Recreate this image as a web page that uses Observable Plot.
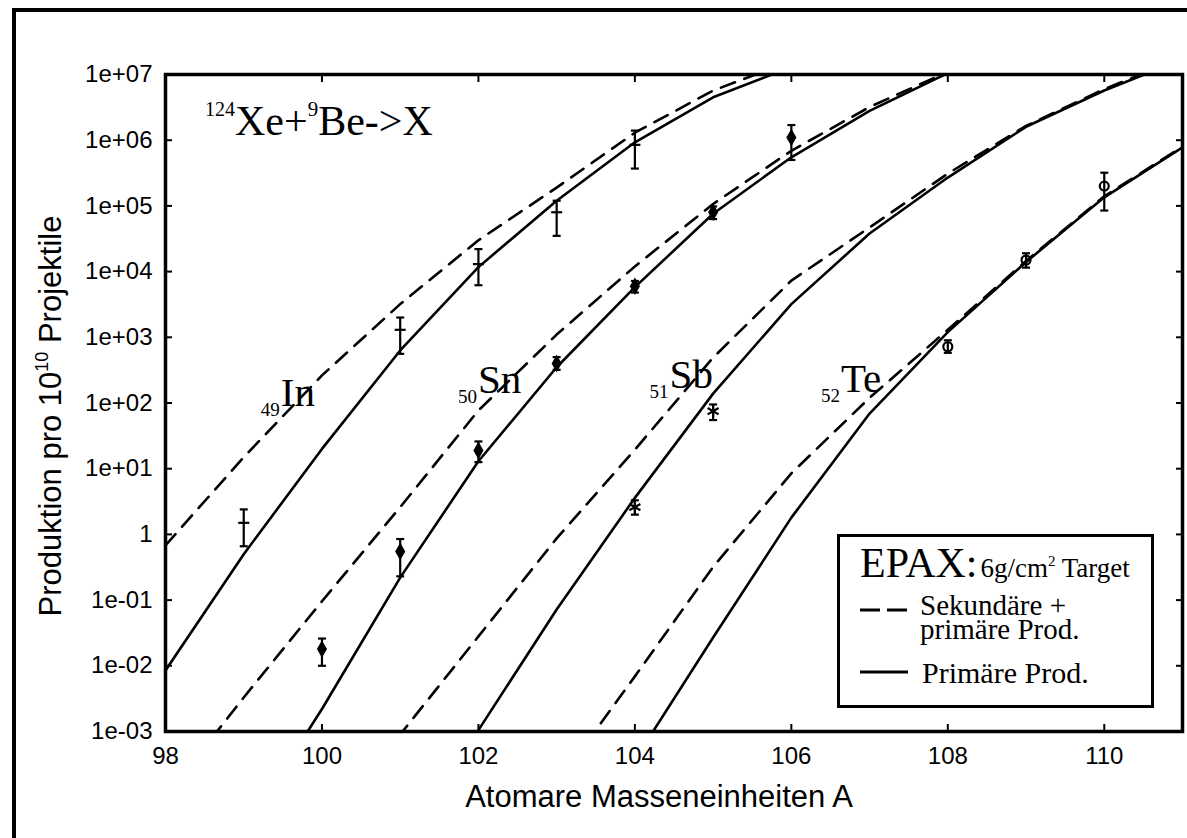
<!DOCTYPE html>
<html><head><meta charset="utf-8">
<script src="https://cdn.jsdelivr.net/npm/d3@7"></script>
<script src="https://cdn.jsdelivr.net/npm/@observablehq/plot@0.6"></script>
<style>
html,body{margin:0;padding:0;background:#fff;overflow:hidden;width:1187px;height:838px;}
#wrap{position:relative;width:1187px;height:838px;overflow:hidden;}
#chart{position:absolute;left:0;top:0;}
#outer{position:absolute;left:12px;top:8px;width:1300px;height:1000px;border:4px solid #000;pointer-events:none;}
</style></head>
<body><div id="wrap"><div id="chart"></div><div id="outer"></div></div>
<script>
// ---- data ----
const massA = [98, 99, 100, 101, 102, 103, 104, 105, 106, 107, 108, 109, 110, 111];
const In_primary = [8.5e-3, 0.5, 20, 630, 1.17e4, 1.2e5, 9.3e5, 4.5e6, 1.3e7, null, null, null, null, null];
const In_total   = [0.68, 15, 263, 3.2e3, 3.0e4, 1.9e5, 1.3e6, 5.7e6, 1.6e7, null, null, null, null, null];
const Sn_primary = [null, 3e-5, 2.2e-3, 0.22, 13, 350, 5.8e3, 7.6e4, 5.5e5, 2.8e6, 1.05e7, null, null, null];
const Sn_total   = [1e-4, 3.3e-3, 0.096, 2.6, 77, 1.1e3, 1.2e4, 1.07e5, 6.9e5, 3.2e6, 1.1e7, null, null, null];
const Sb_primary = [null, null, null, 1.5e-5, 1.05e-3, 0.072, 3.6, 139, 3.2e3, 3.8e4, 2.7e5, 1.6e6, 5.7e6, 1.7e7];
const Sb_total   = [null, null, 2.5e-5, 9e-4, 0.028, 0.87, 19.5, 490, 7.3e3, 4.7e4, 3.1e5, 1.65e6, 6.0e6, 1.8e7];
const Te_primary = [null, null, null, null, null, null, 3.7e-4, 0.027, 1.8, 69, 1.2e3, 1.4e4, 1.35e5, 7.8e5];
const Te_total   = [null, null, null, null, null, 1.6e-4, 6.9e-3, 0.32, 8.5, 120, 1.3e3, 1.45e4, 1.4e5, 8.0e5];

const In_A = [99, 101, 102, 103, 104];
const In_val = [1.5, 1.3e3, 1.3e4, 8e4, 8.5e5];
const In_lo = [0.66, 560, 6.2e3, 3.5e4, 3.7e5];
const In_hi = [2.4, 2.0e3, 2.2e4, 1.2e5, 1.4e6];

const Sn_A = [100, 101, 102, 103, 104, 105, 106];
const Sn_val = [0.018, 0.55, 19, 400, 6e3, 8e4, 1.1e6];
const Sn_lo = [0.010, 0.23, 12.6, 320, 4.8e3, 6.3e4, 5e5];
const Sn_hi = [0.026, 0.85, 26, 500, 7.2e3, 9.8e4, 1.7e6];

const Sb_A = [104, 105];
const Sb_val = [2.6, 75];
const Sb_lo = [2.0, 55];
const Sb_hi = [3.3, 95];

const Te_A = [108, 109, 110];
const Te_val = [720, 1.5e4, 2e5];
const Te_lo = [580, 1.15e4, 8.5e4];
const Te_hi = [900, 1.9e4, 3.2e5];

const xTicks = [98, 100, 102, 104, 106, 108, 110];
const yTicks = [1e-3, 1e-2, 1e-1, 1, 1e1, 1e2, 1e3, 1e4, 1e5, 1e6, 1e7];
const yTickLabels = ["1e-03", "1e-02", "1e-01", "1", "1e+01", "1e+02", "1e+03", "1e+04", "1e+05", "1e+06", "1e+07"];

const elementNames = ["In", "Sn", "Sb", "Te"];
const elementZ = ["49", "50", "51", "52"];
const labelA = [99.48, 102.0, 104.45, 106.64];
const labelV = [88, 140, 166, 145];

// ---- helpers ----
const curve = arr => massA.map((a, i) => ({A: a, v: arr[i]})).filter(d => d.v != null);
const pts = (A, val, lo, hi) => A.map((a, i) => ({A: a, v: val[i], lo: lo[i], hi: hi[i]}));
const hbar = {draw(ctx, size) { const r = Math.sqrt(size / Math.PI); ctx.moveTo(-r, 0); ctx.lineTo(r, 0); }};

const dash = "15,10";
const lw = 2.6;
const series = [
  [In_primary, In_total], [Sn_primary, Sn_total], [Sb_primary, Sb_total], [Te_primary, Te_total]
];
const lineMarks = series.flatMap(([p, t]) => [
  Plot.line(curve(p), {x: "A", y: "v", stroke: "black", strokeWidth: lw, clip: true}),
  Plot.line(curve(t), {x: "A", y: "v", stroke: "black", strokeWidth: lw, strokeDasharray: dash, clip: true})
]);

const groups = [
  {d: pts(In_A, In_val, In_lo, In_hi), sym: hbar, r: 5.5, fill: "none", stroke: "black"},
  {d: pts(Sn_A, Sn_val, Sn_lo, Sn_hi), sym: "diamond", r: 4, fill: "black", stroke: "black"},
  {d: pts(Sb_A, Sb_val, Sb_lo, Sb_hi), sym: "asterisk", r: 6, fill: "none", stroke: "black"},
  {d: pts(Te_A, Te_val, Te_lo, Te_hi), sym: "circle", r: 4.5, fill: "none", stroke: "black"}
];
const pointMarks = groups.flatMap(g => [
  Plot.ruleX(g.d, {x: "A", y1: "lo", y2: "hi", stroke: "black", strokeWidth: 2.2}),
  Plot.dot(g.d, {x: "A", y: "lo", symbol: hbar, r: 4, stroke: "black", strokeWidth: 2.2}),
  Plot.dot(g.d, {x: "A", y: "hi", symbol: hbar, r: 4, stroke: "black", strokeWidth: 2.2}),
  Plot.dot(g.d, {x: "A", y: "v", symbol: g.sym, r: g.r, fill: g.fill, stroke: g.stroke, strokeWidth: 2.2})
]);

const plot = Plot.plot({
  width: 1187, height: 838,
  marginLeft: 165, marginRight: 5, marginTop: 74, marginBottom: 107,
  style: {background: "transparent", fontFamily: "'Liberation Sans', Arial, sans-serif", fontSize: "24px", color: "#000", overflow: "visible"},
  x: {domain: [98, 111]},
  y: {type: "log", domain: [1e-3, 1e7]},
  marks: [
    ...lineMarks,
    ...pointMarks,
    Plot.axisY(yTicks, {anchor: "left", tickSize: 0, tickPadding: 13, tickFormat: d => yTickLabels[yTicks.indexOf(d)], label: null, fontSize: 24}),
    Plot.axisY(yTicks, {anchor: "left", tickSize: 7, dx: 7, fill: "none", strokeWidth: 2, label: null}),
    Plot.axisY(yTicks, {anchor: "right", tickSize: 7, dx: -7, fill: "none", strokeWidth: 2, label: null}),
    Plot.axisX(xTicks, {anchor: "bottom", tickSize: 0, tickPadding: 15, tickFormat: d => String(d), label: null, fontSize: 24}),
    Plot.axisX(xTicks, {anchor: "bottom", tickSize: 7, dy: -7, fill: "none", strokeWidth: 2, label: null}),
    Plot.axisX(xTicks, {anchor: "top", tickSize: 7, dy: 7, fill: "none", strokeWidth: 2, label: null}),
    Plot.frame({stroke: "black", strokeWidth: 3.5})
  ]
});
document.getElementById("chart").appendChild(plot);

const sx = plot.scale("x"), sy = plot.scale("y");
const svg = d3.select(plot);
const serif = "'Liberation Serif', 'Times New Roman', serif";
const sans = "'Liberation Sans', Arial, sans-serif";

// element labels
elementNames.forEach((name, i) => {
  const x = sx.apply(labelA[i]), y = sy.apply(labelV[i]);
  svg.append("text").attr("x", x - 1).attr("y", y + 10).attr("text-anchor", "end")
    .attr("font-family", serif).attr("font-size", 19).attr("fill", "black").text(elementZ[i]);
  svg.append("text").attr("x", x).attr("y", y).attr("text-anchor", "start")
    .attr("font-family", serif).attr("font-size", 41).attr("fill", "black").text(name);
});

// reaction title
const t = svg.append("text").attr("x", 205).attr("y", 135).attr("text-anchor", "start").attr("font-family", serif).attr("fill", "black");
t.append("tspan").attr("font-size", 20).attr("dy", -19).text("124");
t.append("tspan").attr("font-size", 42).attr("dy", 19).text("Xe+");
t.append("tspan").attr("font-size", 21).attr("dy", -19).text("9");
t.append("tspan").attr("font-size", 42).attr("dy", 19).text("Be->X");

// axis titles
const yl = svg.append("text").attr("transform", "translate(61,416) rotate(-90)").attr("text-anchor", "middle")
  .attr("font-family", sans).attr("font-size", 31).attr("fill", "black");
yl.append("tspan").text("Produktion pro 10");
yl.append("tspan").attr("font-size", 18).attr("dy", -13).text("10");
yl.append("tspan").attr("dy", 13).text(" Projektile");
svg.append("text").attr("x", 659).attr("y", 807).attr("text-anchor", "middle")
  .attr("font-family", sans).attr("font-size", 31).attr("fill", "black").text("Atomare Masseneinheiten A");

// legend
const lg = svg.append("g").attr("text-anchor", "start");
lg.append("rect").attr("x", 838.5).attr("y", 535.5).attr("width", 314).attr("height", 171)
  .attr("fill", "white").attr("stroke", "black").attr("stroke-width", 3);
const e = lg.append("text").attr("x", 860).attr("y", 577).attr("text-anchor", "start").attr("font-family", serif).attr("fill", "black");
e.append("tspan").attr("font-size", 42).text("EPAX:");
e.append("tspan").attr("font-size", 27).attr("dx", 3).text("6g/cm");
e.append("tspan").attr("font-size", 15).attr("dy", -11).text("2");
e.append("tspan").attr("font-size", 27).attr("dy", 11).text(" Target");
lg.append("line").attr("x1", 860).attr("x2", 907).attr("y1", 610).attr("y2", 610)
  .attr("stroke", "black").attr("stroke-width", 3).attr("stroke-dasharray", "20,7");
lg.append("text").attr("x", 920).attr("y", 615).attr("text-anchor", "start").attr("font-family", serif).attr("font-size", 29).attr("fill", "black").text("Sekundäre +");
lg.append("text").attr("x", 920).attr("y", 639).attr("text-anchor", "start").attr("font-family", serif).attr("font-size", 29).attr("fill", "black").text("primäre Prod.");
lg.append("line").attr("x1", 860).attr("x2", 908).attr("y1", 672).attr("y2", 672)
  .attr("stroke", "black").attr("stroke-width", 3);
lg.append("text").attr("x", 922).attr("y", 683).attr("text-anchor", "start").attr("font-family", serif).attr("font-size", 30).attr("fill", "black").text("Primäre Prod.");
</script>
</body></html>
